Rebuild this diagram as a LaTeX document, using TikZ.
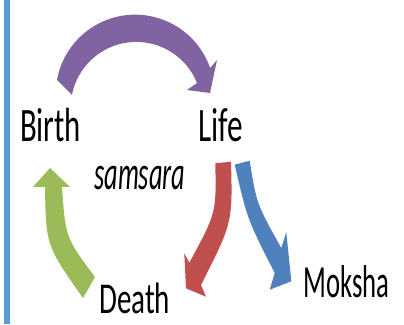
\documentclass[tikz,border=0pt]{standalone}
\usepackage{graphicx}
\usepackage{fontspec}
\setmainfont{Carlito}
\definecolor{cpurple}{HTML}{8064A2}
\definecolor{cred}{HTML}{C0504D}
\definecolor{cblue}{HTML}{4F81BD}
\definecolor{cgreen}{HTML}{9BBB59}
\definecolor{cbar}{HTML}{5B9BD5}
\begin{document}
\begin{tikzpicture}[x=1pt,y=1pt,
  lbl/.style={inner sep=0pt, anchor=base west, font=\fontsize{48}{48}\selectfont},
  blockarrow/.style={draw=none}]
\useasboundingbox (0,0) rectangle (404,324);
\fill[white] (0,0) rectangle (404,324);
\fill[cbar] (4,0) rectangle (10,324);

% Birth -> Life (purple)
\fill[cpurple, blockarrow] (57,244) arc[start angle=169.8, end angle=19.1, radius=79.4pt]
  -- (217,264) -- (210,231) -- (187,234) -- (197,241)
  arc[start angle=21.9, end angle=169, radius=65.5pt] -- cycle;

% Death -> Birth (green)
\fill[cgreen, blockarrow] (50,156) -- (33,137) -- (45,137) .. controls (46,78.5) .. (83,26)
  -- (95,47) .. controls (65.5,86.5) .. (62,137) -- (70,137) -- cycle;

% Life -> Death (red)
\fill[cred, blockarrow] (215.3,160.7) -- (231,162.3) .. controls (232.6,101.3) .. (201,39)
  -- (206,27.3) -- (186,35.7) -- (184.3,70.7) -- (189.3,61.3)
  .. controls (216.3,111) .. (215.3,160.7) -- cycle;

% Life -> Moksha (blue)
\fill[cblue, blockarrow] (234.7,159.3) -- (249.7,163.3) .. controls (256.5,120.3) .. (281.3,76)
  -- (286.3,92) -- (291.3,42.7) -- (269.7,34.3) -- (274.7,51)
  .. controls (247.3,104.8) .. (234.7,159.3) -- cycle;

\node[lbl] (birth) at (20,182) {\scalebox{0.64}[1]{Birth}};
\node[lbl] (life) at (198.5,182) {\scalebox{0.65}[1]{Life}};
\node[lbl] (samsara) at (94,134) {\scalebox{0.55}[1]{\itshape samsara}};
\node[lbl, font=\fontsize{44}{44}\selectfont] (death) at (99,11) {\scalebox{0.66}[1]{Death}};
\node[lbl, font=\fontsize{46}{46}\selectfont] (moksha) at (303.5,27) {\scalebox{0.58}[1]{Moksha}};
\end{tikzpicture}
\end{document}
